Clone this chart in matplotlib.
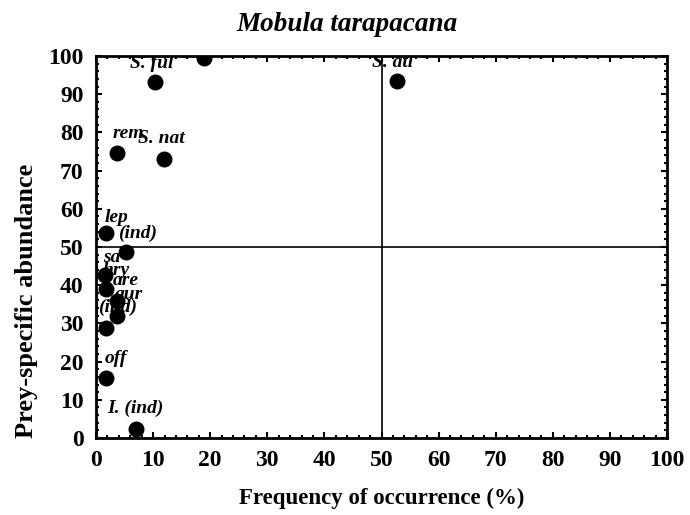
import matplotlib
matplotlib.use("Agg")
import matplotlib.pyplot as plt
from matplotlib.ticker import MultipleLocator

# Data
freq = [18.9, 10.3, 52.7, 3.7, 11.9, 1.75, 5.25, 1.6, 1.75, 3.7, 3.7, 1.75, 1.75, 7.0]
abund = [99.5, 93.2, 93.5, 74.6, 73.0, 53.7, 48.7, 42.7, 39.0, 35.9, 31.9, 28.8, 15.7, 2.4]
labels = ["", "S. ful", "S. atl", "rem", "S. nat", "lep", "(ind)", "sa", "hry",
          "are", "aur", "(ind)", "off", "I. (ind)"]
# label offsets in pixels (dx, dy)
offsets = [(0, 0), (-25, 14), (-25, 14), (-5, 15), (-26, 16), (-1, 11), (-8, 14),
           (-2, 13), (-3, 14), (-4, 16), (-2, 17), (-8, 16), (-1, 15), (-29, 16)]

plt.rcParams['font.family'] = ['Liberation Serif', 'DejaVu Serif']

fig = plt.figure(figsize=(6.9, 5.15), dpi=100)
ax = fig.add_axes([96/690, 1-438/515, (667-96)/690, (438-56)/515])

ax.scatter(freq, abund, s=110, color='black', zorder=3, clip_on=True)
for x, y, t, (dx, dy) in zip(freq, abund, labels, offsets):
    if t:
        ax.annotate(t, (x, y), xytext=(dx, dy), textcoords='offset pixels',
                    ha='left', va='baseline', fontsize=14, fontweight='bold',
                    fontstyle='italic', annotation_clip=False, clip_on=True, zorder=2)

ax.axhline(50, color='black', lw=1.2, zorder=1)
ax.axvline(50, color='black', lw=1.2, zorder=1)

ax.set_xlim(0, 100)
ax.set_ylim(0, 100)
ax.xaxis.set_major_locator(MultipleLocator(10))
ax.yaxis.set_major_locator(MultipleLocator(10))
ax.xaxis.set_minor_locator(MultipleLocator(2))
ax.yaxis.set_minor_locator(MultipleLocator(2))
ax.tick_params(which='both', direction='in', top=True, right=True, width=1.5)
ax.tick_params(which='major', length=4, labelsize=17)
ax.tick_params(axis='x', which='major', pad=9)
ax.tick_params(axis='y', which='major', pad=9)
ax.tick_params(which='minor', length=2)
for lab in ax.get_xticklabels() + ax.get_yticklabels():
    lab.set_fontweight('bold')
for sp in ax.spines.values():
    sp.set_linewidth(2)

ax.set_xlabel('Frequency of occurrence (%)', fontsize=16.5, fontweight='bold', labelpad=12)
ax.set_ylabel('Prey-specific abundance', fontsize=19, fontweight='bold')
ax.yaxis.set_label_coords(-0.102, 0.36)
ax.set_title('Mobula tarapacana', fontsize=19.5, fontstyle='italic', fontweight='bold',
             x=0.44, pad=18)

fig.savefig('out.png', dpi=100)
